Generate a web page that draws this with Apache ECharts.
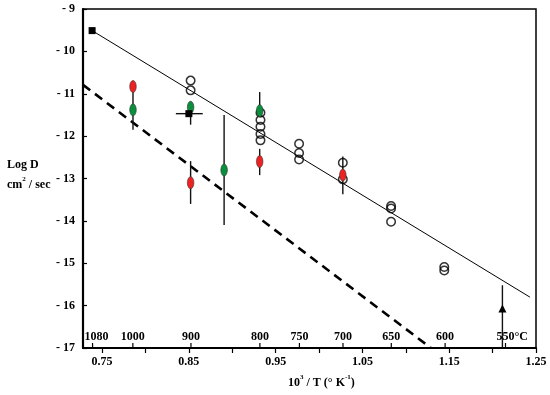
<!DOCTYPE html>
<html><head><meta charset="utf-8">
<script src="https://cdn.jsdelivr.net/npm/echarts@6/dist/echarts.min.js"></script>
<style>html,body{margin:0;padding:0;background:#fff}#c{width:550px;height:395px}</style>
</head><body><div id="c"></div>
<script>
// ---- data ----
const xTicks = [0.75,0.80,0.85,0.90,0.95,1.00,1.05,1.10,1.15,1.20,1.25];
const xLabels = [0.75,0.85,0.95,1.05,1.15,1.25];
const tempC = [1080,1000,900,800,750,700,650,600,550];
const tempText = ['1080','1000','900','800','750','700','650','600','550°C'];
const circles = [
  [0.852,-10.69],[0.852,-10.92],
  [0.9325,-11.45],[0.9325,-11.62],[0.9325,-11.78],[0.9325,-11.95],[0.9325,-12.10],
  [0.977,-12.18],[0.977,-12.40],[0.977,-12.55],
  [1.0274,-12.63],[1.0274,-13.02],
  [1.083,-13.65],[1.083,-13.71],[1.083,-14.02],
  [1.1443,-15.09],[1.1443,-15.17]
];
const greenPts = [[0.7856,-11.38],[0.852,-11.32],[0.8906,-12.80],[0.9316,-11.40]];
const redPts = [[0.7856,-10.83],[0.852,-13.10],[0.9316,-12.60],[1.0274,-12.92]];
const squares = [[0.7385,-9.51],[0.850,-11.47]];
const triangles = [[1.2113,-16.07]];
// vertical bars: [x, top, bottom]
const vBars = [
  [0.7856,-10.72,-11.85],
  [0.852,-11.32,-11.73],
  [0.852,-12.59,-13.60],
  [0.8906,-11.50,-14.10],
  [0.9316,-10.96,-11.40],
  [0.9316,-12.30,-12.92],
  [1.0274,-12.48,-13.37],
  [1.2113,-15.52,-17.0]
];
// horizontal bars: [y, left, right]
const hBars = [[-11.47,0.835,0.866]];
const solidLine = [[0.7385,-9.51],[1.243,-15.80]];
const dashedLine = [[0.728,-10.79],[1.129,-17.0]];

const FONT = '"Liberation Serif","Times New Roman",serif';
const ellipse = 'path://M0,-1C0.55,-1 1,-0.55 1,0C1,0.55 0.55,1 0,1C-0.55,1 -1,0.55 -1,0C-1,-0.55 -0.55,-1 0,-1Z';
const supRich = {
  n:{fontFamily:FONT, fontWeight:'bold', fontSize:12, lineHeight:15, fill:'#000', verticalAlign:'bottom'},
  s:{fontFamily:FONT, fontWeight:'bold', fontSize:7, lineHeight:8, fill:'#000', verticalAlign:'top'}
};

const chart = echarts.init(document.getElementById('c'), null, {renderer:'canvas'});
chart.setOption({
  animation:false,
  backgroundColor:'#fff',
  grid:{left:83, right:14, top:9, bottom:47, show:true, borderColor:'#000', borderWidth:1.5, backgroundColor:'transparent'},
  xAxis:{
    type:'value', min:0.728, max:1.25,
    axisLine:{show:true, onZero:false, lineStyle:{color:'#000', width:2.2}},
    axisTick:{show:true, inside:false, length:5, lineStyle:{color:'#000', width:1.2}, customValues:xTicks},
    axisLabel:{show:true, customValues:xLabels, formatter:v=>v.toFixed(2), color:'#000', fontFamily:FONT, fontWeight:'bold', fontSize:12, margin:8},
    splitLine:{show:false}
  },
  yAxis:{
    type:'value', min:-17, max:-9, interval:1,
    axisLine:{show:true, onZero:false, lineStyle:{color:'#000', width:2.2}},
    axisTick:{show:true, inside:true, length:4, lineStyle:{color:'#000', width:1.2}},
    axisLabel:{formatter:v=>'- '+Math.abs(v), color:'#000', fontFamily:FONT, fontWeight:'bold', fontSize:12, margin:8},
    splitLine:{show:false}
  },
  graphic:[
    {type:'text', left:7, top:159, style:{text:'Log D', font:'bold 12px '+FONT, fill:'#000'}},
    {type:'text', left:7, top:176, style:{text:'{n|cm}{s|2}{n| / sec}', rich:supRich}},
    {type:'text', left:288, top:374, style:{text:'{n|10}{s|3}{n| / T (° K}{s|-1}{n|)}', rich:supRich}}
  ],
  series:[
    {type:'line', data:solidLine, symbol:'none', lineStyle:{color:'#000', width:1}, z:2},
    {type:'line', data:dashedLine, symbol:'none', lineStyle:{color:'#000', width:2.6, type:[9,6]}, z:2},
    {type:'custom', z:3, clip:false, data:vBars,
      renderItem(params, api){
        const a = api.coord([api.value(0), api.value(1)]);
        const b = api.coord([api.value(0), api.value(2)]);
        return {type:'line', shape:{x1:a[0],y1:a[1],x2:b[0],y2:b[1]}, style:{stroke:'#111', lineWidth:1.4}};
      }},
    {type:'custom', z:3, clip:false, data:hBars,
      renderItem(params, api){
        const a = api.coord([api.value(1), api.value(0)]);
        const b = api.coord([api.value(2), api.value(0)]);
        return {type:'line', shape:{x1:a[0],y1:a[1],x2:b[0],y2:b[1]}, style:{stroke:'#111', lineWidth:1.4}};
      }},
    {type:'custom', z:6, clip:false, data:tempC.map((t,i)=>[1000/(t+273.15), -17, i]),
      renderItem(params, api){
        const p = api.coord([api.value(0), api.value(1)]);
        const i = api.value(2);
        let tx = p[0], align = 'center';
        if (i === tempC.length-1){ tx = p[0]-9; align = 'left'; }
        if (i === 0){ tx = p[0]+4; }
        return {type:'group', children:[
          {type:'line', shape:{x1:p[0],y1:p[1],x2:p[0],y2:p[1]-5}, style:{stroke:'#000', lineWidth:1.2}},
          {type:'text', style:{text:tempText[i], x:tx, y:p[1]-11, align:align, verticalAlign:'middle', fontFamily:FONT, fontWeight:'bold', fontSize:12, fill:'#000'}}
        ]};
      }},
    {type:'scatter', data:circles, symbol:'circle', symbolSize:8.5, z:4,
      itemStyle:{color:'rgba(255,255,255,0)', borderColor:'#000', borderWidth:1.5}},
    {type:'scatter', data:greenPts, symbol:ellipse, symbolSize:[6.5,12], z:5,
      itemStyle:{color:'#0a8f3c', borderColor:'#333', borderWidth:0.6, opacity:1}},
    {type:'scatter', data:redPts, symbol:ellipse, symbolSize:[6.5,12], z:5,
      itemStyle:{color:'#ee2222', borderColor:'#333', borderWidth:0.6, opacity:1}},
    {type:'scatter', data:squares, symbol:'rect', symbolSize:7, z:5,
      itemStyle:{color:'#000', opacity:1}},
    {type:'scatter', data:triangles, symbol:'triangle', symbolSize:[8,8], z:5,
      itemStyle:{color:'#000', opacity:1}}
  ]
});
</script></body></html>
